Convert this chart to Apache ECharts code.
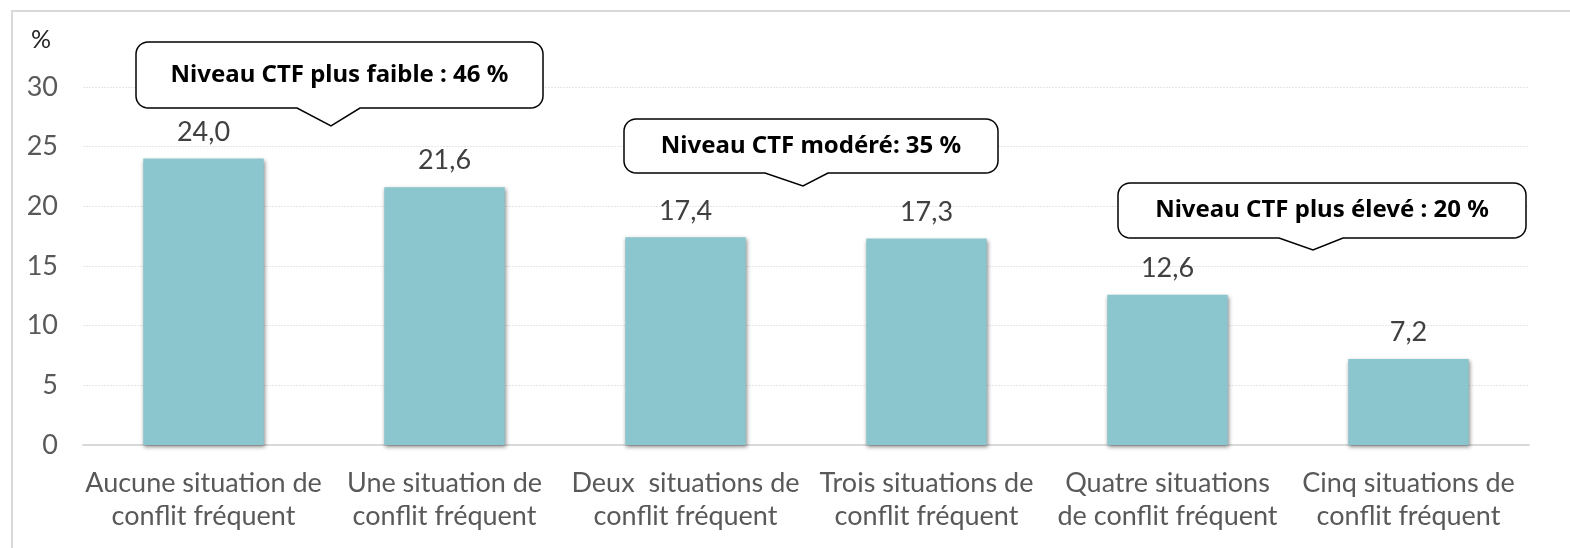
<!DOCTYPE html>
<html><head><meta charset="utf-8">
<script src="https://cdn.jsdelivr.net/npm/echarts@6/dist/echarts.min.js"></script>
<style>html,body{margin:0;padding:0;background:#fff}#c{width:1570px;height:548px}</style>
</head><body><div id="c"></div>
<script>
const categories = [
  "Aucune situation de\nconflit fréquent",
  "Une situation de\nconflit fréquent",
  "Deux  situations de\nconflit fréquent",
  "Trois situations de\nconflit fréquent",
  "Quatre situations\nde conflit fréquent",
  "Cinq situations de\nconflit fréquent"
];
const values = [24.0, 21.6, 17.4, 17.3, 12.6, 7.2];
const yTicks = [0, 5, 10, 15, 20, 25, 30];
const calloutTexts = ["Niveau CTF plus faible : 46 %", "Niveau CTF modéré: 35 %", "Niveau CTF plus élevé : 20 %"];

function arcPts(cx, cy, r, a0, a1) {
  const pts = [];
  for (let i = 0; i <= 8; i++) {
    const a = a0 + (a1 - a0) * i / 8;
    pts.push([cx + r * Math.cos(a), cy + r * Math.sin(a)]);
  }
  return pts;
}
function bubblePoints(b, r) {
  const P = Math.PI;
  let pts = [];
  pts = pts.concat(arcPts(b.x1 + r, b.y1 + r, r, P, 1.5 * P));
  pts = pts.concat(arcPts(b.x2 - r, b.y1 + r, r, 1.5 * P, 2 * P));
  pts = pts.concat(arcPts(b.x2 - r, b.y2 - r, r, 0, 0.5 * P));
  pts.push([b.b2, b.y2], [b.tx, b.ty], [b.b1, b.y2]);
  pts = pts.concat(arcPts(b.x1 + r, b.y2 - r, r, 0.5 * P, P));
  return pts;
}
const bubbles = [
  {x1:136, y1:42, x2:543, y2:108, b1:297, tx:331, ty:126, b2:360},
  {x1:624, y1:119, x2:998, y2:173, b1:765, tx:803, ty:186, b2:828},
  {x1:1118, y1:183, x2:1526, y2:238, b1:1279, tx:1313, ty:250, b2:1343}
];
const graphics = [
  {type:'rect', shape:{x:12, y:11, width:1600, height:600}, style:{fill:'none', stroke:'#d9d9d9', lineWidth:2}, z:0},
  {type:'text', x:31, y:27, style:{text:'%', font:'25px Lato', fill:'#262626'}}
];
bubbles.forEach((b, i) => {
  graphics.push({type:'polygon', shape:{points: bubblePoints(b, 12)},
    style:{fill:'#fff', stroke:'#000', lineWidth:1.5}, z:100});
  graphics.push({type:'text', x:(b.x1 + b.x2) / 2, y:(b.y1 + b.y2) / 2, z:101,
    style:{text:calloutTexts[i], font:'bold 24px "Noto Sans"', fill:'#000', align:'center', verticalAlign:'middle'}});
});

const chart = echarts.init(document.getElementById('c'), null, {renderer:'canvas'});
chart.setOption({
  animation:false,
  grid:{left:83, right:41, top:87, bottom:103, containLabel:false},
  xAxis:{type:'category', data:categories,
    axisLine:{lineStyle:{color:'#d9d9d9', width:2}}, axisTick:{show:false},
    axisLabel:{color:'#595959', fontFamily:'Lato', fontSize:27, lineHeight:33, margin:22, interval:0}},
  yAxis:{type:'value', min:yTicks[0], max:yTicks[yTicks.length-1], interval:5,
    axisLine:{show:false}, axisTick:{show:false},
    axisLabel:{color:'#595959', fontFamily:'Lato', fontSize:27, margin:25},
    splitLine:{lineStyle:{color:'#e6e6e6', width:1, type:[2,1]}}},
  series:[{type:'bar', data:values, barWidth:'50%',
    itemStyle:{color:'#8bc5cd', shadowColor:'rgba(0,0,0,0.45)', shadowBlur:4, shadowOffsetX:1, shadowOffsetY:2},
    label:{show:true, position:'top', distance:13, color:'#404040', fontFamily:'Lato', fontSize:27,
      formatter:p => p.value.toFixed(1).replace('.', ',')}}],
  graphic:graphics
});
</script></body></html>
